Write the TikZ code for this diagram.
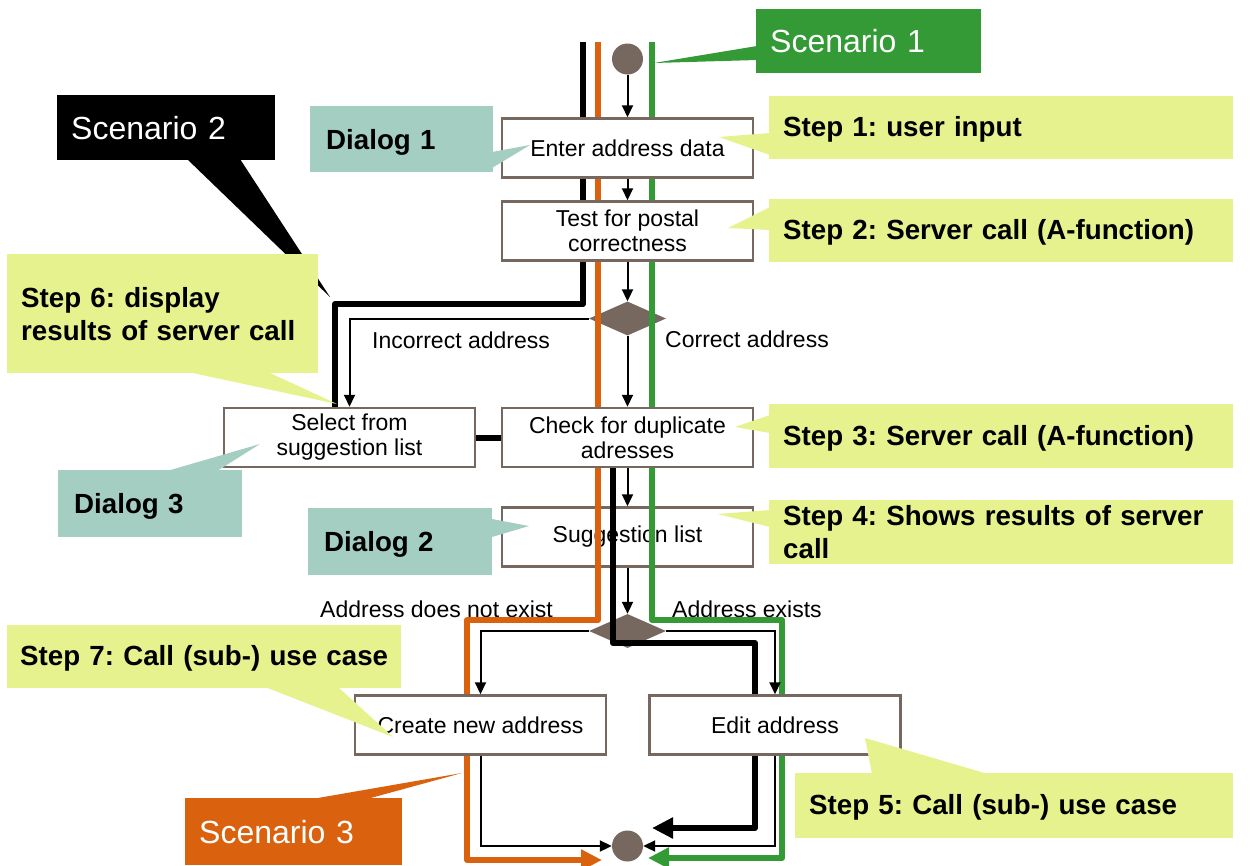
\documentclass[tikz,border=0pt]{standalone}
\usepackage{fontspec}
\setmainfont{Liberation Sans}
\usetikzlibrary{arrows.meta,shapes.geometric}
\definecolor{boxc}{HTML}{76685E}
\definecolor{ycol}{HTML}{E6F28D}
\definecolor{tcol}{HTML}{A3CEC1}
\definecolor{gcol}{HTML}{339A35}
\definecolor{ocol}{HTML}{DA620F}
\pgfdeclarelayer{under}
\pgfdeclarelayer{lines}
\pgfsetlayers{under,lines,main}
\frenchspacing
\begin{document}
\begin{tikzpicture}[x=1pt,y=-1pt,
  box/.style={draw=boxc, line width=2.5pt, fill=white, minimum width=251pt, minimum height=59pt, inner sep=0pt, align=center, font=\fontsize{23}{25}\selectfont},
  dia/.style={diamond, fill=boxc, minimum width=77pt, minimum height=34pt, inner sep=0pt, aspect=2.26},
  dot/.style={circle, fill=boxc, minimum size=31pt, inner sep=0pt},
  flow/.style={line width=2pt, -{Triangle[length=12pt,width=11pt]}},
  lbl/.style={anchor=base west, inner sep=0pt, font=\fontsize{23}{25}\selectfont},
  scen/.style={line width=6pt, line join=round},
  bighead/.style={-{Triangle[length=21pt,width=20pt]}},
  callout/.style={anchor=north west, inner ysep=0pt, align=left},
  oneline/.style={text depth=1.5pt},
  ybox/.style={callout, fill=ycol, inner xsep=14pt, font=\frenchspacing\bfseries\fontsize{27.7}{33}\selectfont},
  tbox/.style={callout, fill=tcol, inner xsep=16pt, text depth=0pt, font=\bfseries\fontsize{27.7}{33}\selectfont},
  sbox/.style={callout, text=white, inner xsep=14pt, font=\fontsize{32}{36}\selectfont},
]
\useasboundingbox (0,0) rectangle (1250,865);

% ---------- under layer: suggestion box, decisions, some labels
\begin{pgfonlayer}{under}
\node[box] (sugg) at (627.5,537) {Suggestion list};
\node[dia] (d1) at (627.5,318.5) {};
\node[dia] (d2) at (627.5,631) {};
\node[lbl] (lnex) at (320,617) {Address does not exist};
\node[lbl] (lex) at (672,617) {Address exists};
\end{pgfonlayer}

% ---------- activity boxes
\node[box] (enter) at (627.5,148) {Enter address data};
\node[box] (test) at (627.5,231) {Test for postal\\correctness};
\node[box] (check) at (627.5,437.5) {Check for duplicate\\adresses};
\node[box] (select) at (349.5,437.5) {Select from\\suggestion list};
\node[box] (create) at (480.5,725) {Create new address};
\node[box] (edit) at (775,725) {Edit address};
\node[dot] (start) at (627.5,59) {};
\node[dot] (endc) at (627.5,846) {};

% ---------- scenario paths
\begin{pgfonlayer}{lines}
\draw[scen] (583,42) -- (583,304) -- (335,304) -- (335,420);
\draw[scen] (select) -- (check);
\draw[scen, bighead] (613,450) -- (613,643) -- (755,643) -- (755,828) -- (652,828);
\draw[scen, ocol, bighead] (598,42) -- (598,620) -- (467,620) -- (467,860) -- (602,860);
\draw[scen, gcol, bighead] (652,42) -- (652,620) -- (782,620) -- (782,858) -- (648,858);
\end{pgfonlayer}

% ---------- control flow
\draw[flow] (start) -- (enter);
\draw[flow] (enter) -- (test);
\draw[flow] (test) -- (d1);
\draw[flow] (d1) -- (check);
\draw[flow] (d1.west) -| (select);
\draw[flow] (check) -- (sugg);
\draw[flow] (sugg) -- (d2);
\draw[flow] (d2.west) -| (create);
\draw[flow] (d2.east) -| (edit);
\draw[flow] (create) |- (endc);
\draw[flow] (edit) |- (endc);
\node[lbl] (linc) at (372,348) {Incorrect address};
\node[lbl] (lcor) at (665,347) {Correct address};

% ---------- callouts
\fill[gcol] (757,46) -- (757,60) -- (654,63) -- cycle;
\node[sbox, fill=gcol, text width=197pt, minimum height=64pt] (sc1) at (756,9) {Scenario 1};

\fill[black] (187,159) -- (240,159) -- (330,297) -- cycle;
\node[sbox, fill=black, text width=190pt, minimum height=65pt] (sc2) at (57,95) {Scenario 2};

\fill[ycol] (188,372) -- (268,372) -- (337,404) -- cycle;
\node[ybox, text width=283pt, minimum height=119pt] (st6) at (7,254) {Step 6: display\\results of server call};

\fill[tcol] (492,152) -- (492,168) -- (530,145) -- cycle;
\node[tbox, text width=151pt, minimum height=66pt] (dg1) at (310,106) {Dialog 1};

\fill[ycol] (770,133) -- (770,155) -- (719,137) -- cycle;
\node[ybox, oneline, text width=436pt, minimum height=63pt] (st1) at (769,96) {Step 1: user input};

\fill[ycol] (770,207) -- (770,230) -- (728,228) -- cycle;
\node[ybox, oneline, text width=436pt, minimum height=63pt] (st2) at (769,199) {Step 2: Server call (A-function)};

\fill[ycol] (770,415) -- (770,433) -- (735,427) -- cycle;
\node[ybox, oneline, text width=436pt, minimum height=64pt] (st3) at (769,404) {Step 3: Server call (A-function)};

\fill[ycol] (770,510) -- (770,527) -- (718,514) -- cycle;
\node[ybox, text width=436pt, minimum height=64pt] (st4) at (769,500) {Step 4: Shows results of server\\call};

\fill[tcol] (492,519) -- (492,537) -- (529,526) -- cycle;
\node[tbox, text width=152pt, minimum height=67pt] (dg2) at (308,508) {Dialog 2};

\fill[tcol] (167,471) -- (217,471) -- (260,444) -- cycle;
\node[tbox, text width=152pt, minimum height=67pt] (dg3) at (58,470) {Dialog 3};

\fill[ycol] (265,687) -- (338,687) -- (393,737) -- cycle;
\node[ybox, oneline, inner xsep=6pt, text width=382pt, minimum height=63pt] (st7) at (7,625) {\hspace*{7pt}Step 7: Call (sub-) use case};

\fill[ocol] (312,799) -- (367,799) -- (462,773) -- cycle;
\node[sbox, fill=ocol, text width=189pt, minimum height=67pt] (sc3) at (185,798) {Scenario 3};

\fill[ycol] (872,774) -- (988,774) -- (865,738) -- cycle;
\node[ybox, oneline, text width=410pt, minimum height=65pt] (st5) at (795,773) {Step 5: Call (sub-) use case};
\end{tikzpicture}
\end{document}
